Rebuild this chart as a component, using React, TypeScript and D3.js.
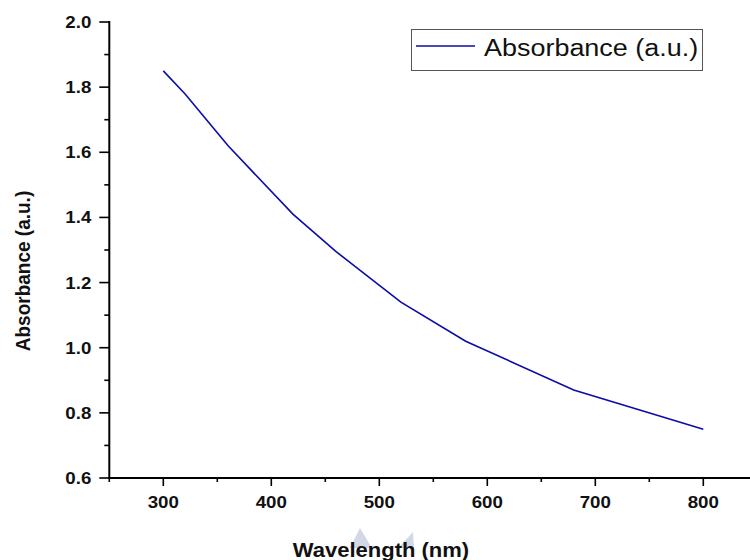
import React from "react";
import * as d3 from "d3";

const wavelengths = [300, 320, 360, 420, 460, 520, 580, 680, 800];
const absorbance = [1.85, 1.78, 1.62, 1.41, 1.295, 1.14, 1.02, 0.87, 0.75];
const xMajorTicks = [300, 400, 500, 600, 700, 800];
const xMinorTicks = [250, 350, 450, 550, 650, 750, 850];
const yMajorTicks = [0.6, 0.8, 1.0, 1.2, 1.4, 1.6, 1.8, 2.0];
const yMinorTicks = [0.7, 0.9, 1.1, 1.3, 1.5, 1.7, 1.9];
const seriesName = "Absorbance (a.u.)";
const xTitle = "Wavelength (nm)";
const yTitle = "Absorbance (a.u.)";

const W = 750;
const H = 560;
const FONT = "'Liberation Sans', Arial, sans-serif";

export default function App() {
  const x = d3.scaleLinear().domain([250, 850]).range([109.3, 757.3]);
  const y = d3.scaleLinear().domain([0.6, 2.0]).range([478, 22]);
  const data = wavelengths.map((w, i) => ({ w, a: absorbance[i] }));
  const line = d3
    .line<{ w: number; a: number }>()
    .x((d) => x(d.w))
    .y((d) => y(d.a));

  const x0 = x(250);
  const y0 = y(0.6);

  return (
    <svg
      width={W}
      height={H}
      viewBox={`0 0 ${W} ${H}`}
      style={{ position: "absolute", left: 0, top: 0, background: "#fff" }}
    >
      <rect x={0} y={0} width={W} height={H} fill="#fff" />

      {/* faint watermark shapes */}
      <polygon points="350,548 360,528 372,548" fill="#c9cde0" opacity={0.8} />
      <polygon points="398,548 413,532 414,548" fill="#c9cde0" opacity={0.8} />

      {/* data line */}
      <path d={line(data) || ""} fill="none" stroke="#0c0ca6" strokeWidth={1.6} />

      {/* axes */}
      <line x1={x0} x2={x0} y1={y(2.0) - 1} y2={y0 + 1} stroke="#000" strokeWidth={2} />
      <line x1={x0 - 1} x2={W + 10} y1={y0} y2={y0} stroke="#000" strokeWidth={2} />

      {yMajorTicks.map((t) => (
        <g key={"ym" + t}>
          <line x1={x0 - 10} x2={x0} y1={y(t)} y2={y(t)} stroke="#000" strokeWidth={1.6} />
          <text
            transform={`translate(${x0 - 18},${y(t) + 6}) scale(1.1,1)`}
            textAnchor="end"
            fontFamily={FONT}
            fontWeight="bold"
            fontSize={17}
            fill="#111"
          >
            {t.toFixed(1)}
          </text>
        </g>
      ))}
      {yMinorTicks.map((t) => (
        <line key={"yn" + t} x1={x0 - 5} x2={x0} y1={y(t)} y2={y(t)} stroke="#000" strokeWidth={1.6} />
      ))}

      {xMajorTicks.map((t) => (
        <g key={"xm" + t}>
          <line x1={x(t)} x2={x(t)} y1={y0} y2={y0 + 8} stroke="#000" strokeWidth={1.6} />
          <text
            transform={`translate(${x(t)},${507.5}) scale(1.1,1)`}
            textAnchor="middle"
            fontFamily={FONT}
            fontWeight="bold"
            fontSize={17}
            fill="#111"
          >
            {t}
          </text>
        </g>
      ))}
      {xMinorTicks.map((t) => (
        <line key={"xn" + t} x1={x(t)} x2={x(t)} y1={y0} y2={y0 + 4} stroke="#000" strokeWidth={1.6} />
      ))}

      {/* axis titles */}
      <text
        transform={`translate(381,557) scale(1.1,1)`}
        textAnchor="middle"
        fontFamily={FONT}
        fontWeight="bold"
        fontSize={20}
        fill="#111"
      >
        {xTitle}
      </text>
      <text
        transform={`translate(30,271) rotate(-90) scale(1,1.1)`}
        textAnchor="middle"
        fontFamily={FONT}
        fontWeight="bold"
        fontSize={19}
        fill="#111"
      >
        {yTitle}
      </text>

      {/* legend */}
      <rect x={411.5} y={29.5} width={291} height={41} fill="#fff" stroke="#555" strokeWidth={1} />
      <line x1={416} x2={475} y1={46} y2={46} stroke="#0c0ca6" strokeWidth={1.6} />
      <text
        transform={`translate(484,56) scale(1.1,1)`}
        fontFamily={FONT}
        fontSize={24.5}
        fill="#111"
      >
        {seriesName}
      </text>
    </svg>
  );
}
